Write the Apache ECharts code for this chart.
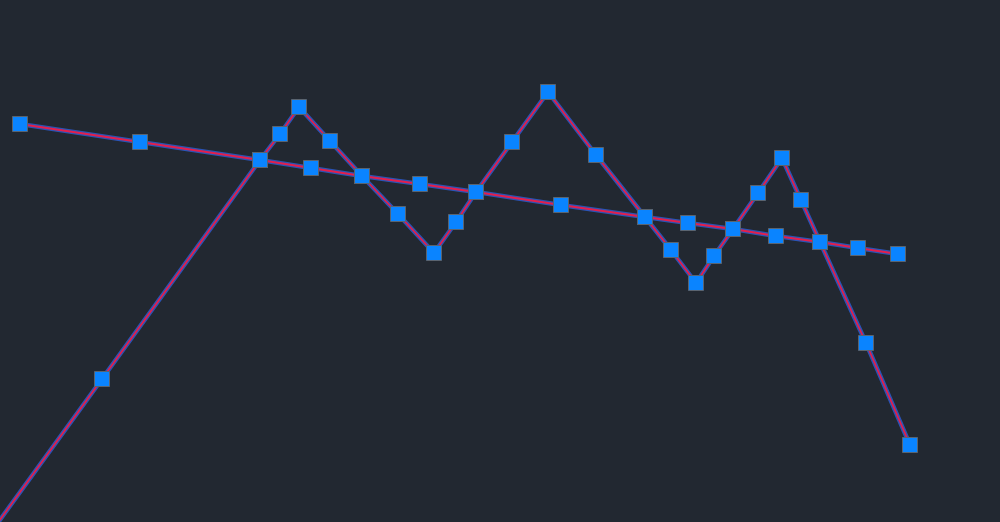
<!DOCTYPE html>
<html>
<head>
<meta charset="utf-8">
<script src="https://cdn.jsdelivr.net/npm/echarts@6/dist/echarts.min.js"></script>
<style>
  html, body { margin: 0; padding: 0; background: #222831; }
  #chart { width: 1000px; height: 522px; }
</style>
</head>
<body>
<div id="chart"></div>
<script>
// values (x to the right, y upward)
const trendX = [20, 140, 260, 311, 362, 420, 476, 561, 645, 688, 733, 776, 820, 858, 898]
const trendY = [398, 380, 362, 354, 346, 338, 330, 317, 305, 299, 293, 286, 280, 274, 268]

const waveX = [-56, 102, 260, 280, 299, 330, 362, 398, 434, 456, 476, 512, 548, 596, 645, 671, 696, 714, 733, 758, 782, 801, 820, 866, 910]
const waveY = [-75, 143, 362, 388, 415, 381, 346, 308, 269, 300, 330, 380, 430, 367, 305, 272, 239, 266, 293, 329, 364, 322, 280, 179, 77]

const zip = (xs, ys) => xs.map((x, i) => [x, ys[i]])

const chart = echarts.init(document.getElementById('chart'))

// each line: a wide blue halo underneath, a thin red stroke on top
const makeLine = (name, data) => [
  {
    name: name + '-halo',
    type: 'line',
    data: data,
    symbol: 'none',
    silent: true,
    z: 1,
    lineStyle: { color: 'rgba(45, 95, 215, 0.8)', width: 4.5 },
  },
  {
    name: name,
    type: 'line',
    data: data,
    symbol: 'rect',
    symbolSize: 15,
    showAllSymbol: true,
    z: 2,
    lineStyle: { color: '#e41f4c', width: 1.8 },
    itemStyle: { color: '#0a84ff', borderColor: '#5a6470', borderWidth: 1 },
  },
]

chart.setOption({
  backgroundColor: '#222831',
  animation: false,
  grid: { left: 0, right: 0, top: 0, bottom: 0 },
  xAxis: { type: 'value', min: 0, max: 1000, show: false },
  yAxis: { type: 'value', min: 0, max: 522, show: false },
  series: [
    ...makeLine('trend', zip(trendX, trendY)),
    ...makeLine('wave', zip(waveX, waveY)),
  ],
})
</script>
</body>
</html>
